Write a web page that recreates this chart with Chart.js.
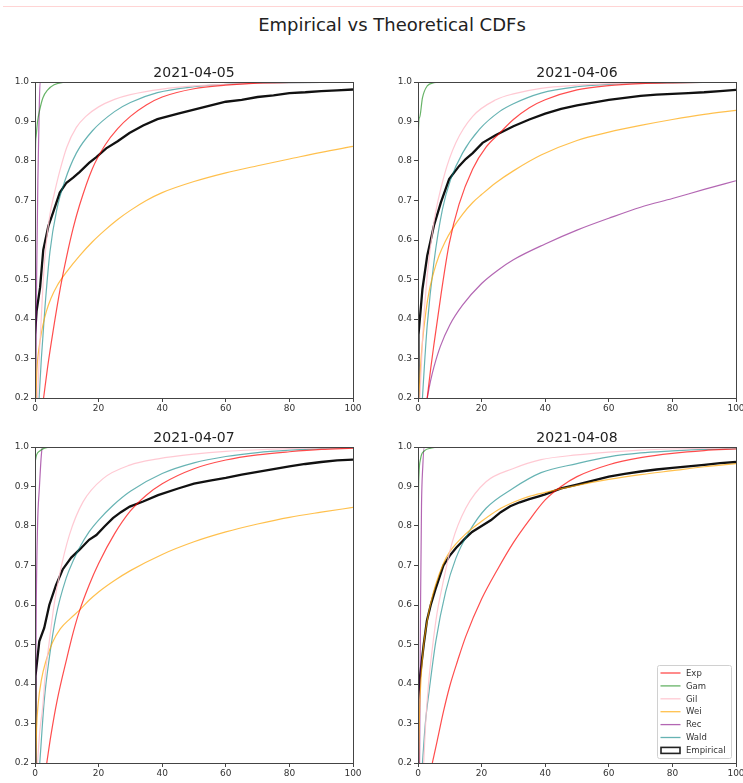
<!DOCTYPE html>
<html>
<head>
<meta charset="utf-8">
<script src="https://cdn.jsdelivr.net/npm/chart.js@4.4.0/dist/chart.umd.min.js"></script>
<style>
  body { margin: 0; background: #fff; width: 743px; height: 783px; overflow: hidden; position: relative; font-family: "DejaVu Sans", sans-serif; }
  #topline { position: absolute; left: 3px; right: 0; top: 6px; height: 1px; background: #ffd4d4; }
  #title { position: absolute; left: 92px; width: 600px; top: 14px; text-align: center; font-size: 18px; line-height: 22px; color: #222; }
  canvas { position: absolute; }
</style>
</head>
<body>
<div id="topline"></div>
<div id="title">Empirical vs Theoretical CDFs</div>
<canvas id="c1" width="375" height="368" style="left:0;top:50px"></canvas>
<canvas id="c2" width="363" height="368" style="left:380px;top:50px"></canvas>
<canvas id="c3" width="375" height="368" style="left:0;top:415px"></canvas>
<canvas id="c4" width="363" height="368" style="left:380px;top:415px"></canvas>
<script>
// ticks
const xTicks = [0, 20, 40, 60, 80, 100];
const yTicks = [0.2, 0.3, 0.4, 0.5, 0.6, 0.7, 0.8, 0.9, 1.0];
const titles = ['2021-04-05', '2021-04-06', '2021-04-07', '2021-04-08'];
const labels = ['Exp', 'Gam', 'Gil', 'Wei', 'Rec', 'Wald', 'Empirical'];

// 2021-04-05  [x, cdf]
const exp05 = [[2.7,0.2],[4,0.28],[5.7,0.37],[8,0.48],[10,0.56],[12,0.63],[14,0.688],[18,0.78],[22,0.84],[26,0.882],[30,0.913],[35,0.942],[40,0.962],[50,0.983],[60,0.992],[70,0.997],[80,0.999],[100,1]];
const gam05 = [[0,0.2],[0.05,0.75],[0.3,0.86],[0.8,0.9],[1.5,0.93],[2.5,0.96],[4,0.98],[6,0.993],[9,0.999],[12,1],[100,1]];
const gil05 = [[0.8,0.2],[1.5,0.33],[2.6,0.5],[3.5,0.59],[4.7,0.665],[6,0.715],[7.8,0.775],[10,0.835],[13,0.885],[16,0.913],[20,0.937],[25,0.956],[30,0.968],[40,0.982],[50,0.99],[60,0.994],[70,0.997],[100,1]];
const wei05 = [[0.3,0.2],[0.6,0.27],[1,0.31],[1.6,0.345],[2.5,0.385],[3.6,0.42],[5,0.452],[7,0.485],[10,0.52],[14,0.56],[18,0.595],[22,0.625],[26,0.652],[30,0.675],[35,0.7],[40,0.72],[50,0.748],[60,0.77],[70,0.788],[80,0.805],[90,0.822],[100,0.837]];
const rec05 = [[0.2,0.2],[0.5,0.5],[0.9,0.75],[1.3,0.92],[1.6,1],[100,1]];
const wald05 = [[1.3,0.2],[2,0.3],[3.1,0.426],[4.7,0.57],[6.8,0.675],[9.4,0.75],[13,0.82],[18,0.876],[25,0.925],[30,0.948],[38.5,0.973],[50,0.988],[60,0.994],[70,0.997],[100,1]];
const emp05 = [[0,0.2],[0,0.36],[0.5,0.42],[1.6,0.48],[2.6,0.575],[4.2,0.635],[5.7,0.67],[7.8,0.72],[9.9,0.745],[12,0.758],[14,0.772],[17,0.795],[19.3,0.81],[22.4,0.832],[26,0.85],[29.7,0.871],[34,0.89],[38.5,0.906],[45,0.92],[50,0.93],[55,0.94],[60,0.95],[65,0.955],[70,0.962],[75,0.966],[80,0.972],[85,0.974],[90,0.977],[95,0.979],[100,0.981]];

// 2021-04-06
const exp06 = [[2.9,0.2],[4,0.275],[5,0.335],[7.2,0.46],[9.8,0.59],[12.9,0.69],[17.2,0.78],[21.4,0.835],[25.6,0.87],[30,0.905],[35,0.935],[40,0.955],[50,0.98],[60,0.991],[70,0.996],[80,0.998],[100,1]];
const gam06 = [[0,0.2],[0.05,0.85],[0.5,0.91],[1.4,0.96],[2.9,0.99],[5,0.998],[8,1],[100,1]];
const gil06 = [[0.6,0.2],[1.5,0.36],[2.9,0.51],[5,0.645],[8.2,0.762],[11.9,0.846],[17.2,0.913],[24.5,0.955],[30,0.97],[38.7,0.984],[50,0.992],[60,0.996],[100,1]];
const wei06 = [[0.3,0.2],[0.8,0.28],[1.4,0.342],[2.5,0.42],[3.5,0.47],[5,0.52],[6.6,0.56],[8.5,0.595],[10.8,0.628],[14,0.665],[17.2,0.695],[20,0.715],[24.5,0.745],[30,0.775],[38.7,0.815],[50,0.852],[60,0.873],[70,0.89],[80,0.905],[90,0.918],[100,0.928]];
const rec06 = [[2.9,0.2],[4,0.245],[5,0.278],[7,0.33],[10,0.385],[14,0.435],[20,0.49],[25,0.523],[30,0.55],[40,0.59],[50,0.625],[60,0.655],[70,0.683],[80,0.705],[90,0.728],[100,0.75]];
const wald06 = [[1.4,0.2],[2,0.28],[2.9,0.384],[5,0.543],[7.7,0.678],[10.3,0.754],[14,0.82],[19.3,0.88],[25.6,0.925],[30,0.945],[38.7,0.972],[50,0.988],[60,0.994],[70,0.997],[100,1]];
const emp06 = [[0,0.2],[0,0.26],[0.3,0.36],[1.4,0.476],[2.9,0.56],[5,0.636],[7.2,0.695],[9.8,0.754],[12.9,0.787],[15,0.805],[17.2,0.82],[20.3,0.846],[24.5,0.866],[30,0.888],[35,0.905],[40,0.92],[45,0.932],[50,0.941],[55,0.948],[60,0.955],[65,0.96],[70,0.965],[75,0.968],[80,0.97],[85,0.972],[90,0.974],[95,0.977],[100,0.98]];

// 2021-04-07
const exp07 = [[3.7,0.2],[5,0.27],[7,0.36],[10,0.465],[12,0.53],[14,0.585],[17,0.65],[20,0.705],[25,0.78],[30,0.838],[35,0.878],[40,0.907],[50,0.945],[60,0.967],[70,0.98],[80,0.988],[90,0.994],[100,0.997]];
const gam07 = [[0,0.96],[0.5,0.98],[1.5,0.99],[3,0.997],[6,1],[100,1]];
const gil07 = [[0.8,0.2],[1.5,0.28],[2.4,0.34],[3.2,0.42],[4.5,0.508],[6,0.6],[7.7,0.676],[10.8,0.777],[15.1,0.861],[21.4,0.92],[29.8,0.954],[38.7,0.97],[50,0.982],[60,0.989],[70,0.993],[80,0.996],[100,0.998]];
const wei07 = [[0.2,0.2],[0.5,0.29],[1,0.35],[2,0.41],[3.5,0.46],[5.5,0.505],[8,0.54],[11,0.565],[14,0.587],[17,0.612],[20,0.633],[25,0.662],[30,0.687],[40,0.728],[50,0.76],[60,0.785],[70,0.805],[80,0.822],[90,0.835],[100,0.847]];
const rec07 = [[0.1,0.2],[0.4,0.6],[0.8,0.8],[1.4,0.9],[2,0.98],[2.4,1],[100,1]];
const wald07 = [[1.5,0.2],[2.9,0.357],[4.5,0.466],[6.6,0.572],[9.8,0.668],[12,0.712],[14,0.745],[17,0.785],[20,0.815],[24.5,0.852],[30,0.888],[40,0.933],[50,0.96],[60,0.976],[70,0.986],[80,0.992],[90,0.996],[100,0.998]];
const emp07 = [[0,0.2],[0,0.32],[0.3,0.42],[1.35,0.508],[2.9,0.542],[4.5,0.6],[6.6,0.65],[8.7,0.69],[11.4,0.72],[14,0.74],[17,0.765],[19.3,0.777],[22,0.8],[24.5,0.82],[27,0.835],[29.8,0.849],[34,0.862],[38.7,0.878],[45,0.895],[50,0.907],[55,0.915],[60,0.922],[65,0.93],[70,0.937],[75,0.944],[80,0.951],[85,0.957],[90,0.962],[95,0.966],[100,0.968]];

// 2021-04-08
const exp08 = [[4.5,0.2],[6,0.255],[8,0.33],[10,0.395],[12.5,0.46],[15,0.52],[20,0.615],[25,0.69],[30,0.758],[35,0.815],[40,0.866],[45,0.9],[50,0.925],[60,0.955],[70,0.973],[80,0.984],[90,0.991],[100,0.995]];
const gam08 = [[0,0.2],[0.1,0.8],[0.3,0.93],[0.8,0.97],[2,0.99],[4,0.997],[8,1],[100,1]];
const gil08 = [[1.8,0.2],[2.4,0.3],[3.3,0.4],[4.5,0.49],[6,0.58],[7.7,0.65],[10.8,0.76],[15,0.845],[21.4,0.912],[29.8,0.945],[38.7,0.968],[50,0.98],[60,0.987],[70,0.992],[80,0.995],[100,0.998]];
const wei08 = [[0.2,0.2],[0.5,0.33],[1,0.42],[1.8,0.5],[3,0.565],[4,0.605],[5.5,0.65],[8,0.705],[10,0.735],[15,0.78],[20,0.812],[25,0.84],[30,0.86],[35,0.875],[40,0.885],[50,0.903],[60,0.918],[70,0.93],[80,0.94],[90,0.95],[100,0.958]];
const rec08 = [[0.5,0.2],[0.8,0.6],[1.1,0.85],[1.5,0.95],[2,1],[100,1]];
const wald08 = [[1.4,0.2],[2.3,0.3],[3.5,0.382],[5.6,0.508],[8.7,0.634],[11.9,0.718],[16.1,0.786],[21.4,0.845],[29.8,0.895],[38.7,0.935],[50,0.958],[60,0.975],[70,0.985],[80,0.99],[90,0.994],[100,0.996]];
const emp08 = [[0,0.2],[0,0.36],[0.5,0.41],[1.8,0.5],[2.8,0.56],[4,0.6],[5.5,0.64],[8,0.7],[10,0.725],[12,0.745],[15,0.77],[17,0.785],[20,0.8],[23,0.815],[26,0.835],[29,0.85],[32,0.86],[35,0.868],[38,0.875],[40,0.88],[45,0.895],[50,0.905],[55,0.915],[60,0.925],[65,0.932],[70,0.938],[75,0.943],[80,0.947],[85,0.951],[90,0.955],[95,0.959],[100,0.962]];

const colors = ['rgba(255,0,0,0.7)', 'rgba(0,128,0,0.6)', 'rgba(255,192,203,0.85)', 'rgba(255,165,0,0.7)', 'rgba(128,0,128,0.6)', 'rgba(0,128,128,0.6)', '#111'];
const FONT = 'DejaVu Sans';

// cuadro, título y leyenda dibujados a mano
const panelDecor = {
    id: 'panelDecor',
    afterDraw(chart, args, opts) {
        const { ctx, chartArea: a } = chart;
        ctx.save();
        ctx.strokeStyle = '#444';
        ctx.lineWidth = 1;
        ctx.strokeRect(Math.round(a.left) + 0.5, Math.round(a.top) + 0.5, Math.round(a.right - a.left), Math.round(a.bottom - a.top));
        ctx.fillStyle = '#222';
        ctx.font = '14px "' + FONT + '"';
        ctx.textAlign = 'center';
        ctx.textBaseline = 'alphabetic';
        ctx.fillText(opts.title, (a.left + a.right) / 2, a.top - 5.5);
        if (opts.legend) {
            const w = 74, h = 93;
            const bx = a.right - 5 - w, by = a.bottom - 5 - h;
            ctx.fillStyle = 'rgba(255,255,255,0.85)';
            ctx.strokeStyle = '#d0d0d0';
            ctx.beginPath();
            ctx.roundRect(bx + 0.5, by + 0.5, w, h, 2);
            ctx.fill();
            ctx.stroke();
            ctx.font = '8.5px "' + FONT + '"';
            ctx.textAlign = 'left';
            ctx.textBaseline = 'middle';
            chart.data.datasets.forEach((ds, i) => {
                const yy = by + 8 + i * 12.9;
                if (i === 6) {
                    ctx.strokeStyle = '#222';
                    ctx.lineWidth = 1.6;
                    ctx.strokeRect(bx + 4, yy - 3, 19, 6);
                } else {
                    ctx.strokeStyle = ds.borderColor;
                    ctx.lineWidth = 1.3;
                    ctx.beginPath();
                    ctx.moveTo(bx + 3.5, yy);
                    ctx.lineTo(bx + 23.5, yy);
                    ctx.stroke();
                }
                ctx.fillStyle = '#333';
                ctx.fillText(ds.label, bx + 29, yy + 0.5);
            });
        }
        ctx.restore();
    }
};

function makePanel(id, title, series, yAxisWidth, rightPad, legend) {
    const datasets = series.map((pts, i) => ({
        label: labels[i],
        data: pts.map(p => ({ x: p[0], y: p[1] })),
        borderColor: colors[i],
        borderWidth: i === 6 ? 2.3 : 1.2,
        pointRadius: 0,
        fill: false,
        tension: 0,
        cubicInterpolationMode: i === 6 ? 'default' : 'monotone'
    }));
    const tickFont = { family: FONT, size: 9 };
    return new Chart(document.getElementById(id), {
        type: 'line',
        data: { datasets },
        options: {
            responsive: false,
            animation: false,
            events: [],
            layout: { padding: { top: 32, right: rightPad, left: 0, bottom: 0 } },
            plugins: {
                legend: { display: false },
                tooltip: { enabled: false },
                panelDecor: { title, legend }
            },
            scales: {
                x: {
                    type: 'linear', min: 0, max: 100,
                    afterBuildTicks: s => { s.ticks = xTicks.map(v => ({ value: v })); },
                    ticks: { font: tickFont, color: '#333', padding: 1, maxRotation: 0, autoSkip: false },
                    grid: { drawOnChartArea: false, drawTicks: true, tickLength: 4, tickColor: '#444' },
                    border: { color: '#444' },
                    afterFit: s => { s.height = 20; s.paddingLeft = 0; s.paddingRight = 0; }
                },
                y: {
                    type: 'linear', min: 0.2, max: 1.0,
                    afterBuildTicks: s => { s.ticks = yTicks.map(v => ({ value: v })); },
                    ticks: { font: tickFont, color: '#333', padding: 2, autoSkip: false, callback: v => v.toFixed(1) },
                    grid: { drawOnChartArea: false, drawTicks: true, tickLength: 4, tickColor: '#444' },
                    border: { color: '#444' },
                    afterFit: s => { s.width = yAxisWidth; s.paddingTop = 0; s.paddingBottom = 0; }
                }
            }
        },
        plugins: [panelDecor]
    });
}

makePanel('c1', titles[0], [exp05, gam05, gil05, wei05, rec05, wald05, emp05], 35, 22, false);
makePanel('c2', titles[1], [exp06, gam06, gil06, wei06, rec06, wald06, emp06], 38, 7, false);
makePanel('c3', titles[2], [exp07, gam07, gil07, wei07, rec07, wald07, emp07], 35, 22, false);
makePanel('c4', titles[3], [exp08, gam08, gil08, wei08, rec08, wald08, emp08], 38, 7, true);
</script>
</body>
</html>
